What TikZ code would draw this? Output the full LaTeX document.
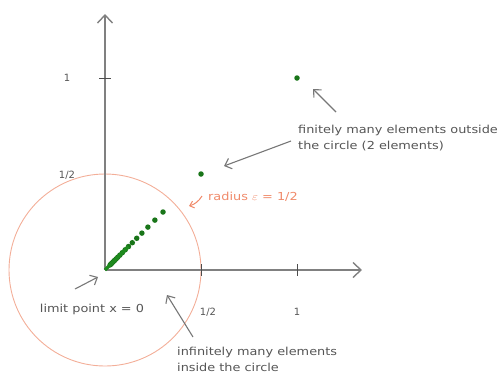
\documentclass[tikz,border=0pt]{standalone}
\usepackage{fontspec}
\setmainfont{DejaVu Sans}
\usetikzlibrary{arrows.meta}
\definecolor{axisgray}{HTML}{808080}
\definecolor{ptgreen}{HTML}{1E8A1E}
\definecolor{circ}{HTML}{F3AE98}
\definecolor{orangetxt}{HTML}{F08A6A}
\definecolor{txtgray}{HTML}{555555}
\newcommand{\widetxt}[1]{\scalebox{1.17}[1]{\begin{tabular}{@{}l@{}}#1\end{tabular}}}
\begin{document}
\begin{tikzpicture}[x=1pt,y=-1pt,
  axis/.style={draw=axisgray,line width=1.8pt,-{Straight Barb[length=8pt,width=15pt,line width=1.4pt]}},
  note/.style={text=txtgray,font=\fontsize{11}{16}\selectfont,inner sep=0pt},
  pointer/.style={draw=txtgray!80,line width=1.1pt,-{Straight Barb[length=6pt,width=11pt]}},
  dotpt/.style={circle,fill=ptgreen!85!black,inner sep=0pt,minimum size=5.5pt},
  lab/.style={text=txtgray,font=\fontsize{10}{12}\selectfont,inner sep=0pt}]
\useasboundingbox (0,0) rectangle (497,381);
% circle
\coordinate (O) at (105,270);
\draw[circ,line width=0.9pt] (O) circle[radius=96];
% axes
\coordinate (xend) at (362,270);
\coordinate (yend) at (105,14);
\draw[axis] (O) -- (xend);
\draw[axis] (O) -- (yend);
% ticks
\draw[axisgray!60!black,line width=1pt] (201,264) -- (201,276);
\draw[axisgray!60!black,line width=1pt] (297,264) -- (297,276);
\draw[axisgray!60!black,line width=1pt] (99,78) -- (111,78);
% tick labels
\node[lab] (y1) at (67,78) {1};
\node[lab] (yh) at (67,175) {1/2};
\node[lab] (xh) at (208,312) {1/2};
\node[lab] (x1) at (297,312) {1};
% points
\node[dotpt] (p1) at (297,78) {};
\node[dotpt] (p2) at (201,174) {};
\foreach \k in {0,...,16}{
  \pgfmathsetmacro{\d}{58*0.86^\k}
  \node[dotpt] (q\k) at ({105+\d},{270-\d}) {};
}
\draw[ptgreen,line width=3.2pt] (q6.center) -- (O);
% notes
\node[note,anchor=west] (fin) at (298,138) {\widetxt{finitely many elements outside\\the circle (2 elements)}};
\node[note,anchor=west,text=orangetxt] (rad) at (208,197) {\widetxt{radius $\varepsilon$ = 1/2}};
\node[note,anchor=center] (lim) at (92,309) {\widetxt{limit point x = 0}};
\node[note,anchor=north west] (inf) at (177,344) {\widetxt{infinitely many elements\\inside the circle}};
% pointers
\coordinate (a1s) at (336,112);
\coordinate (a1e) at (313,89);
\draw[pointer] (a1s) -- (a1e);
\coordinate (a2s) at (291,141);
\coordinate (a2e) at (224,166);
\draw[pointer] (a2s) -- (a2e);
\coordinate (a3s) at (75,289);
\coordinate (a3e) at (98,277);
\draw[pointer] (a3s) -- (a3e);
\coordinate (a4s) at (193,337);
\coordinate (a4e) at (167,295);
\draw[pointer] (a4s) -- (a4e);
\coordinate (a5s) at (202,196);
\coordinate (a5e) at (189,206);
\draw[draw=orangetxt,line width=1pt,-{Straight Barb[length=4pt,width=7pt]}] (a5s) to[bend left=20] (a5e);
\end{tikzpicture}
\end{document}
